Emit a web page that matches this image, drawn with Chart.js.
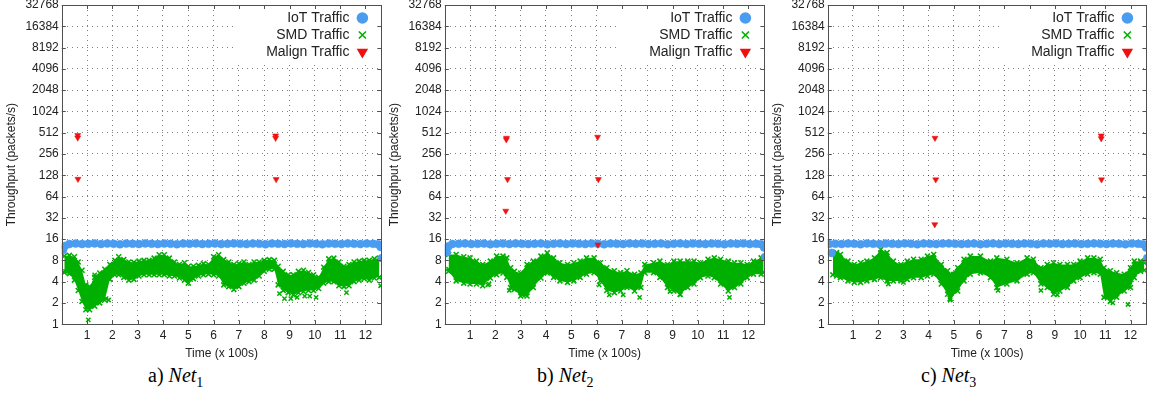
<!DOCTYPE html>
<html><head><meta charset="utf-8">
<script src="https://cdn.jsdelivr.net/npm/chart.js@4.4.1/dist/chart.umd.min.js"></script>
<style>
html,body{margin:0;padding:0;background:#fff;}
#wrap{position:relative;width:1149px;height:394px;overflow:hidden;background:#fff;}
.panel{position:absolute;top:-7px;width:387px;height:368px;}
.cap{position:absolute;top:362px;font-family:"Liberation Serif","DejaVu Serif",serif;font-size:20px;color:#000;white-space:nowrap;line-height:26px;}
.cap sub{font-size:14px;vertical-align:-5px;line-height:0;}
</style></head><body>
<div id="wrap">
<div class="panel" style="left:0px"><canvas id="c1" width="387" height="368"></canvas></div>
<div class="panel" style="left:383px"><canvas id="c2" width="387" height="368"></canvas></div>
<div class="panel" style="left:766px"><canvas id="c3" width="386" height="368"></canvas></div>
<div class="cap" style="left:148px">a) <i>Net</i><sub>1</sub></div>
<div class="cap" style="left:537px">b) <i>Net</i><sub>2</sub></div>
<div class="cap" style="left:921px">c) <i>Net</i><sub>3</sub></div>
</div>
<script>
// ---------- tick labels ----------
const xTickValues = [1,2,3,4,5,6,7,8,9,10,11,12];
const yTickValues = [1,2,4,8,16,32,64,128,256,512,1024,2048,4096,8192,16384,32768];
const seriesNames = ['IoT Traffic','SMD Traffic','Malign Traffic'];

// ---------- Net1 ----------
const net1IotX = [0.05,0.12,0.3,0.55,0.8,1.05,1.3,1.55,1.8,2.05,2.3,2.55,2.8,3.05,3.3,3.55,3.8,4.05,4.3,4.55,4.8,5.05,5.3,5.55,5.8,6.05,6.3,6.55,6.8,7.05,7.3,7.55,7.8,8.05,8.3,8.55,8.8,9.05,9.3,9.55,9.8,10.05,10.3,10.55,10.8,11.05,11.3,11.55,11.8,12.05,12.3,12.5,12.6,12.65,12.66];
const net1IotY = [11.2,12.8,13.6,13.8,13.6,13.7,13.9,13.6,13.8,13.7,13.5,13.8,13.7,13.6,13.9,13.7,13.6,13.8,13.7,13.5,13.8,13.7,13.9,13.6,13.7,13.8,13.6,13.7,13.9,13.7,13.6,13.8,13.7,13.5,13.8,13.7,13.6,13.9,13.7,13.6,13.8,13.7,13.5,13.8,13.7,13.6,13.9,13.7,13.6,13.8,13.7,13.5,12.4,8.6,4.6];
const net1SmdX = [0.1,0.3,0.5,0.65,0.8,0.95,1.1,1.3,1.5,1.7,1.9,2.1,2.25,2.45,2.65,2.85,3.05,3.25,3.45,3.65,3.85,4.05,4.25,4.45,4.65,4.85,5.0,5.2,5.4,5.6,5.8,6.0,6.2,6.4,6.6,6.8,7.0,7.2,7.4,7.6,7.8,8.0,8.2,8.4,8.55,8.75,8.95,9.15,9.35,9.55,9.75,9.95,10.15,10.35,10.55,10.75,10.95,11.15,11.35,11.55,11.75,11.95,12.15,12.35,12.55];
const net1SmdHigh = [9.2,9.4,9.0,7.6,5.8,3.6,3.4,4.6,5.3,6.0,7.0,8.0,9.0,8.2,7.6,7.5,7.8,8.0,8.0,8.6,9.6,9.6,8.6,7.6,7.0,7.4,6.6,6.6,6.8,7.2,7.0,9.0,9.6,8.2,7.6,7.0,7.2,7.6,7.0,7.6,7.6,8.0,8.2,8.0,6.6,5.6,5.0,5.0,5.6,5.8,5.4,5.0,4.6,6.4,8.4,8.6,7.6,6.6,7.0,7.6,7.8,8.0,8.0,8.4,8.6];
const net1SmdLow = [5.4,5.2,4.2,3.0,2.1,1.6,1.6,1.8,2.0,2.2,4.3,5.0,5.0,4.6,4.2,4.3,4.8,5.0,5.0,5.0,5.0,5.0,4.8,4.8,4.5,4.2,3.8,4.4,4.8,5.0,5.1,5.0,4.8,3.6,3.4,3.1,3.4,3.8,4.0,4.2,4.8,5.6,6.0,6.0,3.6,3.0,2.8,2.6,2.8,2.9,3.0,3.0,3.2,3.8,4.0,4.0,3.5,3.4,3.5,4.0,4.2,4.4,4.2,4.5,4.6];
const net1SmdOutX = [0.15,1.05,1.3,1.75,1.85,8.6,8.8,9.05,9.3,9.6,9.8,10.05,11.25,12.6];
const net1SmdOutY = [5.6,1.15,5.0,2.3,2.2,2.7,2.3,2.3,2.4,2.5,2.5,2.4,2.8,3.5];
const net1MalX = [0.63,0.63,0.64,8.45,8.45,8.47];
const net1MalY = [470,435,113,465,430,112];

// ---------- Net2 ----------
const net2IotX = [0.08,0.14,0.3,0.55,0.8,1.05,1.3,1.55,1.8,2.05,2.3,2.55,2.8,3.05,3.3,3.55,3.8,4.05,4.3,4.55,4.8,5.05,5.3,5.55,5.8,6.05,6.3,6.55,6.8,7.05,7.3,7.55,7.8,8.05,8.3,8.55,8.8,9.05,9.3,9.55,9.8,10.05,10.3,10.55,10.8,11.05,11.3,11.55,11.8,12.05,12.3,12.5,12.62,12.66];
const net2IotY = [10.4,12.6,13.6,13.7,13.9,13.6,13.7,13.8,13.5,13.7,13.8,13.6,13.9,13.7,13.6,13.7,13.8,13.5,13.7,13.9,13.6,13.8,13.7,13.6,13.8,13.7,13.5,13.8,13.7,13.6,13.9,13.7,13.8,13.6,13.7,13.8,13.5,13.7,13.9,13.6,13.8,13.7,13.6,13.8,13.7,13.5,13.8,13.7,13.9,13.6,13.7,13.5,12.2,8.9];
const net2SmdX = [0.15,0.45,0.75,1.0,1.25,1.5,1.8,2.05,2.3,2.45,2.6,2.75,3.0,3.25,3.5,3.8,4.05,4.3,4.55,4.85,5.1,5.35,5.6,5.9,6.15,6.4,6.7,6.95,7.2,7.5,7.75,7.9,8.25,8.5,8.8,9.05,9.3,9.6,9.85,10.1,10.4,10.65,10.9,11.2,11.45,11.7,11.95,12.2,12.5,12.6];
const net2SmdHigh = [9.7,9.7,9.0,8.7,7.8,7.0,7.8,9.2,9.2,8.7,6.3,5.6,5.3,7.0,7.8,9.2,10.2,8.7,7.4,7.0,7.4,7.8,8.7,8.7,7.4,6.3,5.7,5.35,5.7,5.1,5.35,7.0,7.4,7.8,7.0,7.8,7.8,7.8,7.8,7.4,8.3,8.7,8.3,7.8,7.4,7.4,7.0,7.8,8.7,8.7];
const net2SmdLow = [5.6,4.1,3.8,3.7,3.7,3.5,4.5,5.0,5.3,4.6,3.3,3.1,2.5,2.5,3.3,4.5,5.3,4.6,4.1,3.9,4.1,4.6,5.1,5.35,4.1,3.0,2.8,2.95,3.3,2.95,3.3,5.35,5.35,4.6,3.3,2.95,2.65,3.3,3.7,4.55,4.8,4.55,3.7,2.95,3.3,3.7,4.55,5.1,5.1,5.4];
const net2SmdOutX = [0.15,1.7,1.75,2.55,3.05,3.2,6.1,6.5,7.05,7.7,8.9,9.3,11.25,12.7];
const net2SmdOutY = [6.0,3.6,3.7,3.0,2.6,2.6,3.6,2.6,2.6,2.4,2.9,2.6,2.4,2.9];
const net2MalX = [2.43,2.44,2.48,2.41,6.04,6.07,6.05];
const net2MalY = [410,430,112,40,445,112,13.3];

// ---------- Net3 ----------
const net3IotX = [0.05,0.15,0.3,0.55,0.8,1.05,1.3,1.55,1.8,2.05,2.3,2.55,2.8,3.05,3.3,3.55,3.8,4.05,4.3,4.55,4.8,5.05,5.3,5.55,5.8,6.05,6.3,6.55,6.8,7.05,7.3,7.55,7.8,8.05,8.3,8.55,8.8,9.05,9.3,9.55,9.8,10.05,10.3,10.55,10.8,11.05,11.3,11.55,11.8,12.05,12.3,12.5,12.62,12.66,12.68];
const net3IotY = [13.6,10.2,13.7,13.6,13.8,13.7,13.5,13.9,13.7,13.6,13.8,13.7,13.6,13.9,13.7,13.5,13.8,13.7,13.6,13.8,13.9,13.7,13.6,13.7,13.8,13.5,13.7,13.9,13.6,13.8,13.7,13.6,13.8,13.7,13.5,13.8,13.7,13.9,13.6,13.7,13.8,13.6,13.7,13.9,13.7,13.6,13.8,13.7,13.5,13.8,13.7,13.5,12.2,8.6,5.6];
const net3SmdX = [0.2,0.35,0.5,0.8,1.05,1.3,1.55,1.85,2.1,2.35,2.6,2.9,3.15,3.4,3.7,3.95,4.2,4.5,4.75,4.85,5.15,5.4,5.65,6.05,6.45,6.7,7.1,7.5,7.9,8.15,8.45,8.7,8.95,9.2,9.5,9.75,10.0,10.3,10.55,10.8,10.95,11.2,11.45,11.75,12.0,12.15,12.4,12.55];
const net3SmdHigh = [10.3,10.3,9.7,7.8,7.0,7.4,7.8,8.7,11.4,10.3,7.8,7.0,7.8,8.3,8.3,9.2,9.7,7.0,5.7,5.1,6.3,8.3,9.2,9.2,7.8,8.7,8.3,7.4,8.7,8.3,6.3,7.0,7.4,7.0,7.0,7.0,7.8,8.7,8.7,8.3,6.3,5.7,5.35,5.1,6.3,7.8,7.8,7.4];
const net3SmdLow = [5.0,4.8,4.55,4.1,3.9,3.9,4.1,4.3,4.55,4.1,4.1,4.1,4.3,4.55,4.55,4.8,5.1,3.7,2.65,2.3,2.95,4.1,5.1,5.35,4.55,3.3,3.7,4.1,5.1,5.35,3.7,3.3,2.65,2.95,3.3,4.1,4.55,5.1,5.35,5.1,2.4,2.1,2.4,2.95,3.3,4.55,5.6,5.8];
const net3SmdOutX = [2.4,3.0,4.85,6.75,8.45,9.1,10.95,11.3,11.9,12.7];
const net3SmdOutY = [3.7,3.9,2.2,3.0,3.0,2.6,2.4,2.0,1.9,2.9];
const net3MalX = [4.25,4.28,4.24,10.84,10.84,10.85];
const net3MalY = [430,111,25.8,465,425,111];

// ---------- styling ----------
const BLUE = '#4a9cf0';
const GREEN = '#00b000';
const RED = '#f01010';
const FONT = '"Liberation Sans", Arial, sans-serif';

function pts(xs, ys){ return xs.map((x,i)=>({x:x, y:ys[i]})); }

const framePlugin = {
  id:'frame',
  beforeDatasetsDraw(chart){
    const {ctx, chartArea:a} = chart;
    ctx.save();
    ctx.fillStyle = '#fff';
    ctx.fillRect(a.right-146, a.top+1, 145, 55);
    ctx.restore();
  },
  afterDatasetsDraw(chart){
    const {ctx, chartArea:a, scales} = chart;
    ctx.save();
    ctx.strokeStyle = '#505050';
    ctx.lineWidth = 1;
    ctx.beginPath();
    for (const v of yTickValues){
      const y = Math.round(scales.y.getPixelForValue(v))+0.5;
      ctx.moveTo(a.left, y); ctx.lineTo(a.left+4, y);
      ctx.moveTo(a.right, y); ctx.lineTo(a.right-4, y);
    }
    for (const v of xTickValues){
      const x = Math.round(scales.x.getPixelForValue(v))+0.5;
      ctx.moveTo(x, a.bottom); ctx.lineTo(x, a.bottom-4);
      ctx.moveTo(x, a.top); ctx.lineTo(x, a.top+4);
    }
    ctx.stroke();
    ctx.strokeRect(Math.round(a.left)+0.5, Math.round(a.top)+0.5, Math.round(a.right-a.left)-1, Math.round(a.bottom-a.top));
    // legend
    const items = [
      {t:seriesNames[0], s:'circle', c:BLUE, r:5, rot:0},
      {t:seriesNames[1], s:'crossRot', c:GREEN, r:5, rot:0},
      {t:seriesNames[2], s:'triangle', c:RED, r:5, rot:180}
    ];
    ctx.font = '14px ' + FONT;
    ctx.textAlign = 'right';
    ctx.textBaseline = 'middle';
    items.forEach((it,i)=>{
      const y = a.top + 13 + i*17;
      ctx.fillStyle = '#222';
      ctx.fillText(it.t, a.right-32, y);
      ctx.fillStyle = it.c; ctx.strokeStyle = it.c; ctx.lineWidth = 1.6;
      Chart.helpers.drawPoint(ctx, {pointStyle:it.s, radius:it.r, rotation:it.rot, borderWidth:1.6}, a.right-19, y);
    });
    ctx.restore();
  }
};

function makeChart(id, d){
  const datasets = [
    {label:seriesNames[2], data:pts(d.malX,d.malY), showLine:false, pointStyle:'triangle', pointRotation:180, pointRadius:3.5, pointBackgroundColor:RED, pointBorderColor:RED, pointBorderWidth:0.5, order:0},
    {label:seriesNames[0], data:pts(d.iotX,d.iotY), showLine:false, pointStyle:'circle', pointRadius:4, pointBackgroundColor:BLUE, pointBorderColor:BLUE, pointBorderWidth:0.5, order:1},
    {label:seriesNames[1], data:pts(d.smdX,d.smdHigh), showLine:true, borderWidth:0, borderColor:GREEN, backgroundColor:GREEN, fill:'+1', pointStyle:'crossRot', pointRadius:3.5, pointBorderColor:GREEN, pointBorderWidth:1.6, order:2},
    {label:seriesNames[1]+' low', data:pts(d.smdX,d.smdLow), showLine:true, borderWidth:0, borderColor:GREEN, backgroundColor:GREEN, fill:false, pointStyle:'crossRot', pointRadius:3.5, pointBorderColor:GREEN, pointBorderWidth:1.6, order:2},
    {label:seriesNames[1]+' out', data:pts(d.outX,d.outY), showLine:false, pointStyle:'crossRot', pointRadius:3, pointBorderColor:GREEN, pointBorderWidth:1.5, order:2}
  ];
  return new Chart(document.getElementById(id), {
    type:'line',
    data:{datasets},
    options:{
      responsive:false, animation:false, devicePixelRatio:1,
      elements:{line:{tension:0}},
      layout:{padding:{left:2, right:0, top:12, bottom:0}},
      plugins:{legend:{display:false}, tooltip:{enabled:false}},
      scales:{
        x:{type:'linear', min:0, max:12.63,
          afterBuildTicks:s=>{ s.ticks = xTickValues.map(v=>({value:v})); },
          ticks:{autoSkip:false, maxRotation:0, color:'#222', font:{family:FONT,size:12}, padding:4, callback:v=>String(v)},
          grid:{color:'rgba(0,0,0,0.5)', lineWidth:1, drawTicks:false},
          border:{display:false, dash:[1,4]},
          title:{display:true, text:'Time (x 100s)', color:'#222', font:{family:FONT,size:12}, padding:{top:0,bottom:0}}
        },
        y:{type:'logarithmic', min:1, max:32768,
          afterBuildTicks:s=>{ s.ticks = yTickValues.map(v=>({value:v})); },
          ticks:{autoSkip:false, color:'#222', font:{family:FONT,size:12}, padding:3, callback:v=>String(v)},
          grid:{color:'rgba(0,0,0,0.5)', lineWidth:1, drawTicks:false},
          border:{display:false, dash:[1,4]},
          title:{display:true, text:'Throughput (packets/s)', color:'#222', font:{family:FONT,size:12}, padding:{top:2,bottom:4}}
        }
      }
    },
    plugins:[framePlugin]
  });
}

makeChart('c1', {iotX:net1IotX, iotY:net1IotY, smdX:net1SmdX, smdHigh:net1SmdHigh, smdLow:net1SmdLow, outX:net1SmdOutX, outY:net1SmdOutY, malX:net1MalX, malY:net1MalY});
makeChart('c2', {iotX:net2IotX, iotY:net2IotY, smdX:net2SmdX, smdHigh:net2SmdHigh, smdLow:net2SmdLow, outX:net2SmdOutX, outY:net2SmdOutY, malX:net2MalX, malY:net2MalY});
makeChart('c3', {iotX:net3IotX, iotY:net3IotY, smdX:net3SmdX, smdHigh:net3SmdHigh, smdLow:net3SmdLow, outX:net3SmdOutX, outY:net3SmdOutY, malX:net3MalX, malY:net3MalY});
</script>
</body></html>
